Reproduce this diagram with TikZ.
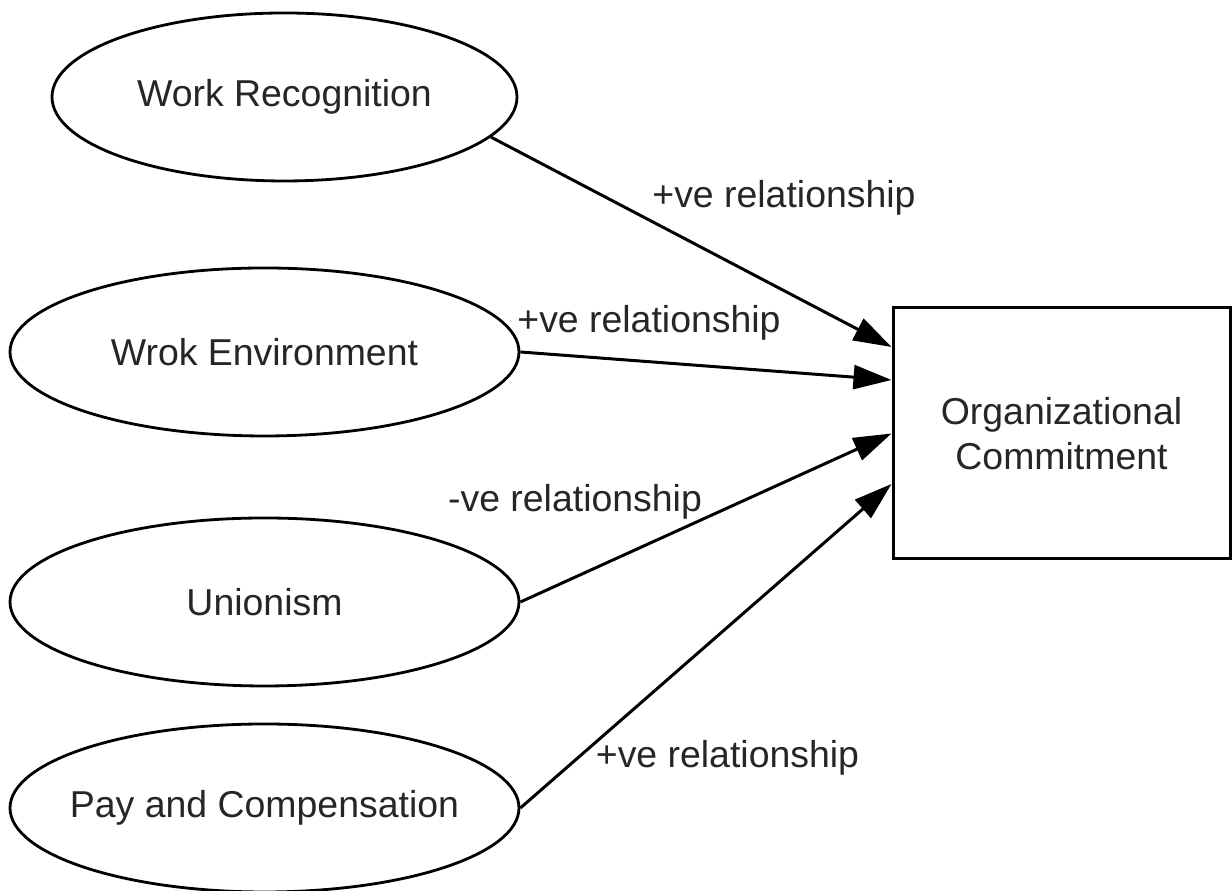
\documentclass[tikz,border=0pt]{standalone}
\usepackage{fontspec}
\setmainfont{Liberation Sans}
\usepackage{tikz}
\usetikzlibrary{arrows.meta,positioning,calc,shapes.geometric}
\definecolor{ink}{HTML}{262626}

\begin{document}
\begin{tikzpicture}[
  every node/.style={font=\fontsize{21.3pt}{25.6pt}\selectfont,text=ink},
  oval/.style={ellipse,draw=black,line width=1.6pt,fill=white,minimum width=10.18cm,minimum height=3.36cm,inner sep=0pt},
  target/.style={rectangle,draw=black,line width=1.7pt,fill=white,minimum width=6.74cm,minimum height=5.02cm,align=center},
  rel/.style={anchor=base},
  link/.style={line width=1.7pt,draw=black,-{Triangle[length=7.6mm,width=4.8mm]}}
]
\useasboundingbox (0,0) rectangle (24.64,17.82);
\node[oval,minimum width=9.3cm] (WR) at (5.69,15.88) {Work Recognition};
\node[oval] (WE) at (5.29,10.78) {Wrok Environment};
\node[oval] (UN) at (5.29,5.78) {Unionism};
\node[oval] (PC) at (5.29,1.66) {\makebox[0pt]{Pay and Compensation}};
\node[target] (OC) at (21.23,9.15) {Organizational\\Commitment};
\draw[link] (WR.-11) -- ($(OC.west)+(0,1.73)$);
\draw[link] (WE.east) -- ($(OC.west)+(0,1.07)$);
\draw[link] (UN.east) -- (OC.west);
\draw[link] (PC.east) -- ($(OC.west)+(0,-1.01)$);
\node[rel] (r1) at (15.68,13.66) {+ve relationship};
\node[rel] (r2) at (12.98,11.16) {+ve relationship};
\node[rel] (r3) at (11.50,7.58) {-ve relationship};
\node[rel] (r4) at (14.55,2.46) {+ve relationship};
\end{tikzpicture}
\end{document}
